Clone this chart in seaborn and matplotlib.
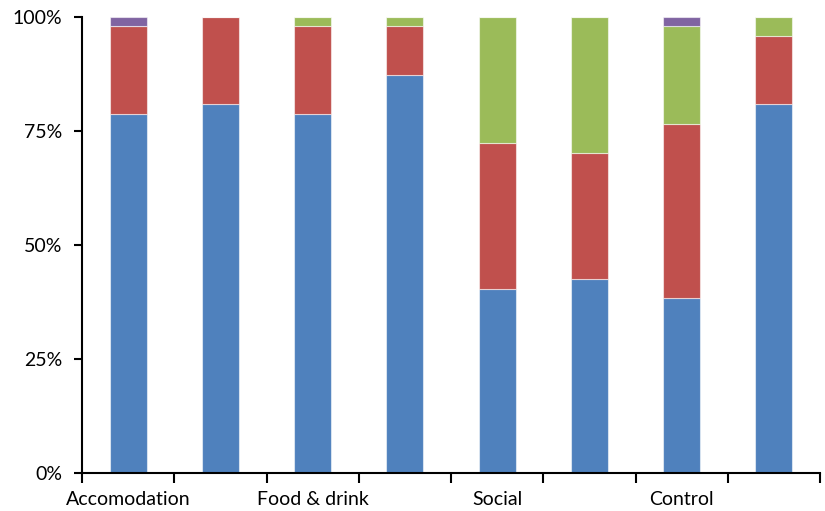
import numpy as np
import pandas as pd
import matplotlib
matplotlib.use("Agg")
import matplotlib.pyplot as plt
import seaborn as sns

# Eight bars, labelled in pairs by group
bar_ids = ["A1", "A2", "F1", "F2", "S1", "S2", "C1", "C2"]
group_labels = ["Accomodation", "Food & drink", "Social", "Control"]

# Share of responses (%) per bar, stacked bottom to top
series_names = ["s1", "s2", "s3", "s4"]
s1 = [78.72, 80.85, 78.72, 87.23, 40.43, 42.55, 38.30, 80.85]
s2 = [19.15, 19.15, 19.15, 10.64, 31.91, 27.66, 38.30, 14.89]
s3 = [0.00, 0.00, 2.13, 2.13, 27.66, 29.79, 21.28, 4.26]
s4 = [2.13, 0.00, 0.00, 0.00, 0.00, 0.00, 2.12, 0.00]
colors = ["#4F81BD", "#C0504D", "#9BBB59", "#8064A2"]

y_ticks = [0, 25, 50, 75, 100]
y_tick_labels = ["0%", "25%", "50%", "75%", "100%"]

sns.set_theme(style="white")
plt.rcParams["font.family"] = ["Lato", "DejaVu Sans"]

fig = plt.figure(figsize=(8.25, 5.11), dpi=100)
ax = fig.add_axes([0.0994, 0.0738, 0.8946, 0.8935])

bottom = np.zeros(len(bar_ids))
for name, vals, col in zip(series_names, [s1, s2, s3, s4], colors):
    df = pd.DataFrame({"bar": bar_ids, "value": vals})
    sns.barplot(data=df, x="bar", y="value", order=bar_ids, color=col,
                bottom=bottom, width=0.4, ax=ax, saturation=1,
                edgecolor=(1, 1, 1, 0.55), linewidth=0.8, errorbar=None)
    bottom = bottom + np.array(vals)

ax.set_xlim(-0.5, len(bar_ids) - 0.5)
ax.set_ylim(0, 100)

# tick marks at the boundaries between bars, text under every second bar
ax.set_xticks(np.arange(-0.5, len(bar_ids), 1.0))
ax.set_xticklabels([])
ax.set_xticks(np.arange(0, len(bar_ids), 2), minor=True)
ax.set_xticklabels(group_labels, minor=True, fontsize=14, color="black")
ax.tick_params(axis="x", which="major", direction="out", length=7,
               width=1.5, color="black", bottom=True)
ax.tick_params(axis="x", which="minor", length=0, pad=13, bottom=True)

ax.set_yticks(y_ticks)
ax.set_yticklabels(y_tick_labels, fontsize=14, color="black")
ax.tick_params(axis="y", direction="out", length=6, width=1.5,
               color="black", left=True, pad=8)

ax.set_xlabel("")
ax.set_ylabel("")
for side in ["top", "right"]:
    ax.spines[side].set_visible(False)
for side in ["left", "bottom"]:
    ax.spines[side].set_color("black")
    ax.spines[side].set_linewidth(1.5)
ax.grid(False)

fig.savefig("out.png", dpi=100, facecolor="white")
